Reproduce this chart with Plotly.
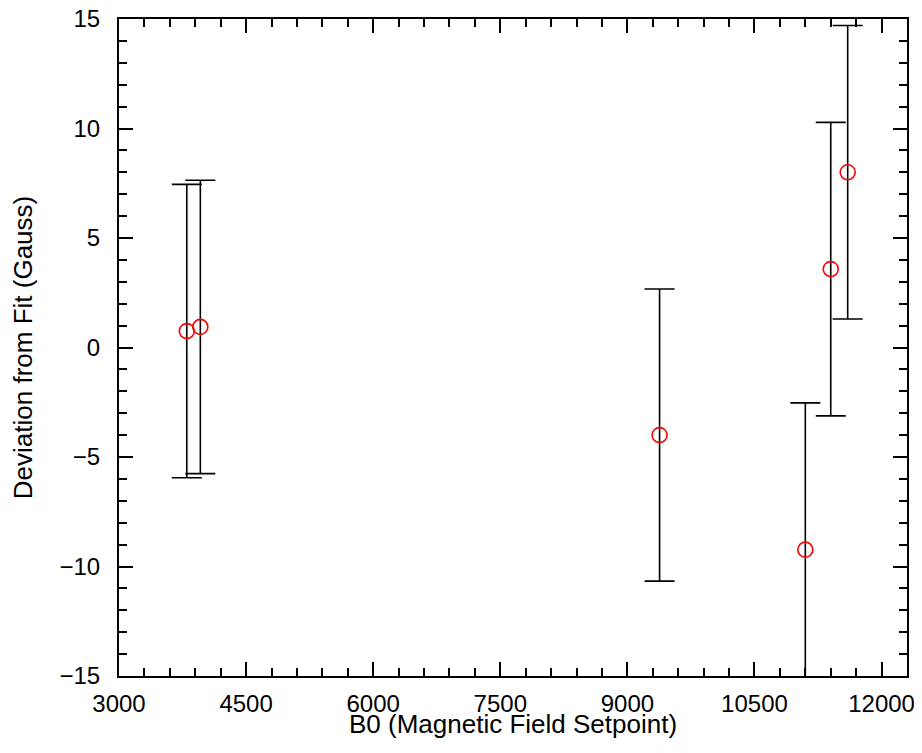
import plotly.graph_objects as go

b0_setpoint = [3800, 3960, 9380, 11100, 11400, 11600]
deviation = [0.75, 0.94, -4.0, -9.23, 3.58, 8.0]
uncertainty = [6.7, 6.7, 6.67, 6.7, 6.7, 6.7]

x_ticks = [3000, 4500, 6000, 7500, 9000, 10500, 12000]
y_ticks = [-15, -10, -5, 0, 5, 10, 15]

fig = go.Figure()
fig.add_trace(go.Scatter(
    x=b0_setpoint, y=deviation, mode="markers",
    marker=dict(symbol="circle-open", size=15, color="red", line=dict(width=1.6, color="red")),
    error_y=dict(type="data", array=uncertainty, visible=True, color="black", thickness=1.6, width=15),
    showlegend=False,
))

font_family = "Liberation Sans, Arial, Helvetica, sans-serif"
axis_common = dict(
    showline=True, linecolor="black", linewidth=2, mirror="ticks",
    ticks="inside", ticklen=14, tickwidth=2, tickcolor="black",
    showgrid=False, zeroline=False, ticklabeloverflow="allow", automargin=False,
    tickfont=dict(family=font_family, size=24, color="black"),
)

fig.update_layout(
    width=914, height=745,
    margin=dict(l=111, r=15, t=11, b=77),
    paper_bgcolor="white", plot_bgcolor="white",
    font=dict(family=font_family, size=24, color="black"),
    xaxis=dict(
        range=[3000, 12300], tickvals=x_ticks, ticktext=[str(v) for v in x_ticks],
        minor=dict(dtick=300, tick0=3000, ticks="inside", ticklen=8, tickwidth=2, tickcolor="black"),
        ticklabelstandoff=5,
        **axis_common,
    ),
    yaxis=dict(
        range=[-15, 15], tickvals=y_ticks,
        minor=dict(dtick=1, tick0=0, ticks="inside", ticklen=8, tickwidth=2, tickcolor="black"),
        title=dict(text="Deviation from Fit (Gauss)", font=dict(family=font_family, size=26), standoff=20),
        ticklabelstandoff=12,
        **axis_common,
    ),
    annotations=[dict(
        text="B0 (Magnetic Field Setpoint)", xref="paper", yref="paper", x=0.5, y=0,
        xanchor="center", yanchor="middle", yshift=-48, showarrow=False,
        font=dict(family=font_family, size=26, color="black"),
    )],
)

fig.write_html("out.html")
